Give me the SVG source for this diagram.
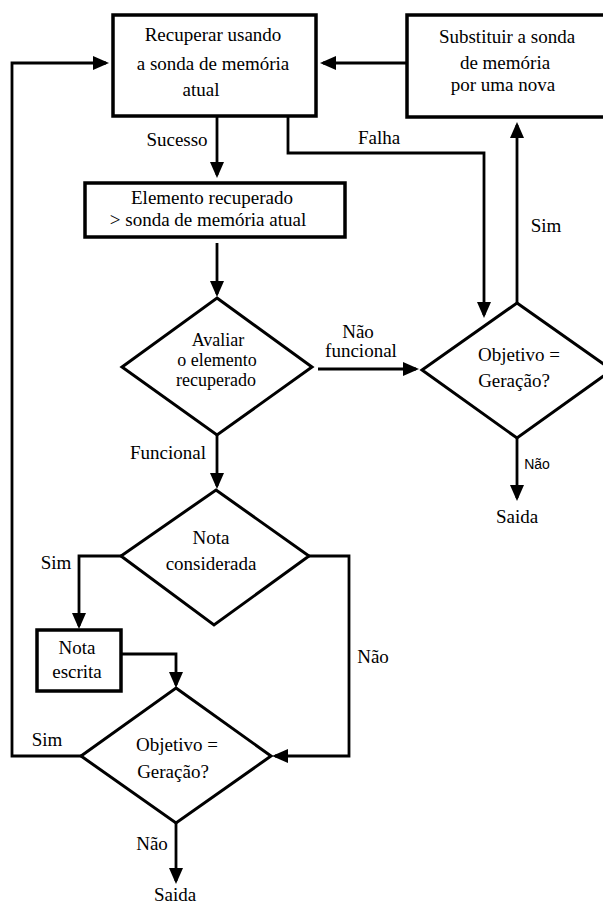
<svg xmlns="http://www.w3.org/2000/svg" width="603" height="904" viewBox="0 0 603 904">
<style>
.box{fill:#fff;stroke:#000;stroke-width:3.5}
.dia{fill:#fff;stroke:#000;stroke-width:3;stroke-linejoin:miter}
.t{font-family:"Liberation Serif","Times New Roman",serif;font-size:19px;fill:#000;text-anchor:middle}
.d{font-size:18px}
.s{font-family:"Liberation Sans",Arial,sans-serif;font-size:14px;fill:#000;text-anchor:middle}
.c{fill:none;stroke:#000;stroke-width:2.8;marker-end:url(#ah)}
</style>
<defs>
<marker id="ah" markerUnits="userSpaceOnUse" markerWidth="16" markerHeight="14" viewBox="0 0 16 14" refX="13" refY="7" orient="auto">
<path d="M0,0 L16,7 L0,14 Z" fill="#000"/>
</marker>
</defs>
<rect width="603" height="904" fill="#fff"/>
<g id="connectors">
<path class="c" d="M407,63 H323"/>
<path class="c" d="M81,756 H12 V63 H106"/>
<path class="c" d="M217,117 V175"/>
<path class="c" d="M288,117 V153 H484 V315"/>
<path class="c" d="M217,243 V294"/>
<path class="c" d="M318,369 H416"/>
<path class="c" d="M517,303 V125"/>
<path class="c" d="M517,438 V498"/>
<path class="c" d="M217,435 V486"/>
<path class="c" d="M121,556 H79 V626"/>
<path class="c" d="M309,556 H349 V756 H275"/>
<path class="c" d="M121,654 H176 V685"/>
<path class="c" d="M176,823 V881"/>
<text class="t" x="177" y="146">Sucesso</text>
<text class="t" x="379" y="144">Falha</text>
<text class="t" x="546" y="232">Sim</text>
<text class="t" x="358" y="338">Não</text>
<text class="t" x="361" y="357">funcional</text>
<text class="s" x="537" y="469">Não</text>
<text class="t" x="517" y="523">Saida</text>
<text class="t" x="168" y="459">Funcional</text>
<text class="t" x="56" y="569">Sim</text>
<text class="t" x="373" y="663">Não</text>
<text class="t" x="47" y="746">Sim</text>
<text class="t" x="152" y="850">Não</text>
<text class="t" x="175" y="901">Saida</text>
</g>
<g id="recuperar">
<rect class="box" x="113" y="15" width="203" height="101"/>
<text class="t" x="213" y="41">Recuperar usando</text>
<text class="t" x="213" y="70">a sonda de memória</text>
<text class="t" x="201" y="96">atual</text>
</g>
<g id="substituir">
<rect class="box" x="407" y="15" width="210" height="102"/>
<text class="t" x="507" y="43">Substituir a sonda</text>
<text class="t" x="505" y="69">de memória</text>
<text class="t" x="503" y="91">por uma nova</text>
</g>
<g id="elemento">
<rect class="box" x="85" y="183" width="260" height="54"/>
<text class="t" x="212" y="204">Elemento recuperado</text>
<text class="t" x="208" y="226">&gt; sonda de memória atual</text>
</g>
<g id="avaliar">
<polygon class="dia" points="217,298 312,367 217,435 122,367"/>
<text class="t d" x="218" y="346">Avaliar</text>
<text class="t d" x="217" y="366">o elemento</text>
<text class="t d" x="216" y="386">recuperado</text>
</g>
<g id="objetivo1">
<polygon class="dia" points="517,303 612,370 517,438 422,370"/>
<text class="t" x="519" y="361">Objetivo =</text>
<text class="t" x="514" y="387">Geração?</text>
</g>
<g id="nota-considerada">
<polygon class="dia" points="216,490 309,556 214,625 121,556"/>
<text class="t" x="211" y="544">Nota</text>
<text class="t" x="211" y="570">considerada</text>
</g>
<g id="nota-escrita">
<rect class="box" x="37" y="630" width="84" height="61"/>
<text class="t" x="77" y="654">Nota</text>
<text class="t" x="77" y="678">escrita</text>
</g>
<g id="objetivo2">
<polygon class="dia" points="176,688 271,756 176,823 81,756"/>
<text class="t" x="177" y="751">Objetivo =</text>
<text class="t" x="173" y="778">Geração?</text>
</g>
</svg>
